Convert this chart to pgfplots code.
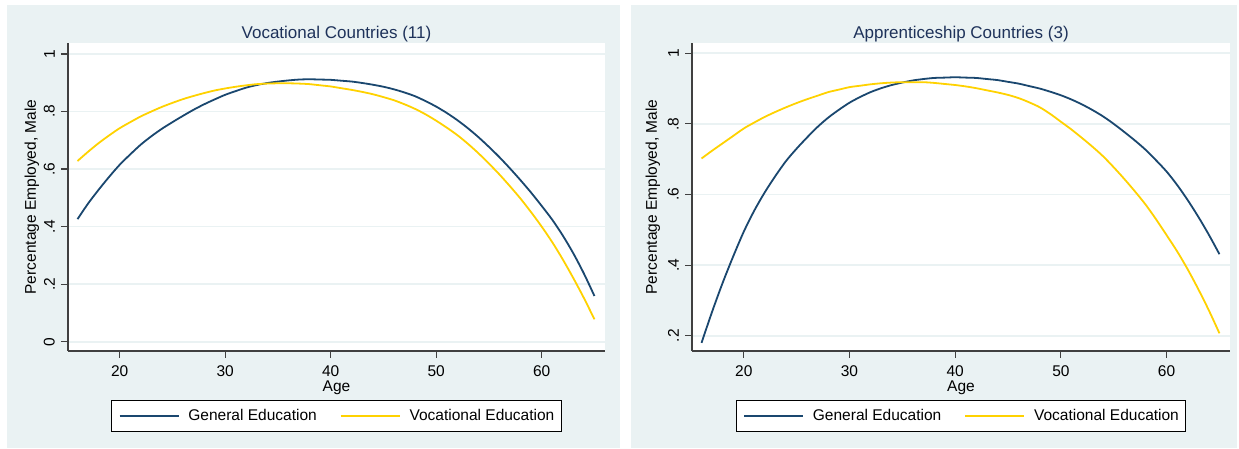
\documentclass[border=0pt]{standalone}
\usepackage{fontspec}
\setmainfont{Liberation Sans}
\usepackage{pgfplots}
\usepackage{pgfplotstable}
\pgfplotsset{compat=1.18}

\definecolor{stnavy}{RGB}{26,71,111}
\definecolor{stgold}{RGB}{255,210,0}
\definecolor{stbg}{RGB}{234,242,243}
\definecolor{sttitle}{RGB}{30,50,90}
\definecolor{staxis}{RGB}{64,64,64}

\newcommand{\lblfont}{\fontsize{15.5}{18}\selectfont}

% age, vocational countries (gen, voc), apprenticeship countries (gen, voc)
\pgfplotstableread{
age vgen  vvoc  agen  avoc
16  0.426 0.628 0.180 0.702
17  0.480 0.660 0.268 0.724
18  0.528 0.690 0.350 0.745
19  0.573 0.717 0.425 0.766
20  0.615 0.742 0.495 0.787
21  0.651 0.763 0.555 0.804
22  0.685 0.783 0.607 0.820
23  0.714 0.800 0.653 0.834
24  0.740 0.816 0.695 0.847
25  0.763 0.830 0.730 0.859
26  0.785 0.843 0.762 0.870
27  0.806 0.854 0.792 0.880
28  0.825 0.864 0.818 0.890
29  0.842 0.873 0.840 0.897
30  0.858 0.880 0.860 0.904
31  0.871 0.886 0.876 0.908
32  0.883 0.891 0.890 0.912
33  0.892 0.895 0.901 0.915
34  0.899 0.897 0.910 0.917
35  0.904 0.898 0.917 0.918
36  0.908 0.898 0.923 0.918
37  0.911 0.897 0.927 0.918
38  0.912 0.895 0.930 0.916
39  0.911 0.891 0.931 0.913
40  0.910 0.887 0.932 0.910
41  0.907 0.881 0.931 0.906
42  0.904 0.875 0.930 0.901
43  0.899 0.868 0.927 0.895
44  0.893 0.860 0.924 0.889
45  0.886 0.850 0.919 0.882
46  0.877 0.839 0.914 0.873
47  0.866 0.825 0.907 0.861
48  0.853 0.809 0.900 0.847
49  0.836 0.790 0.891 0.828
50  0.817 0.768 0.881 0.806
51  0.795 0.744 0.869 0.784
52  0.770 0.718 0.855 0.760
53  0.742 0.688 0.839 0.735
54  0.711 0.655 0.821 0.708
55  0.677 0.619 0.800 0.677
56  0.641 0.581 0.777 0.644
57  0.602 0.540 0.753 0.609
58  0.561 0.497 0.727 0.572
59  0.518 0.450 0.697 0.530
60  0.472 0.400 0.665 0.485
61  0.424 0.346 0.627 0.439
62  0.369 0.286 0.584 0.388
63  0.307 0.221 0.537 0.332
64  0.237 0.152 0.486 0.272
65  0.159 0.078 0.431 0.207
}\emp

\pgfplotsset{
  stata/.style={
    scale only axis, height=308pt,
    xmin=15.1, xmax=66,
    axis background/.style={fill=white},
    axis x line*=bottom, axis y line*=left,
    axis line style={-, draw=staxis, line width=1.5pt},
    tick style={draw=staxis, line width=1.2pt},
    tick align=outside, major tick length=7pt,
    xtick={20,30,40,50,60}, xticklabels={20,30,40,50,60},
    ymajorgrids, y grid style={draw=stbg, line width=1.5pt},
    ticklabel style={font=\lblfont},
    xticklabel style={inner sep=0pt, anchor=north, yshift=-7pt},
    yticklabel style={rotate=90, anchor=south, inner xsep=0pt, inner ysep=6pt},
    xlabel={Age}, ylabel={Percentage Employed, Male},
    label style={font=\lblfont},
    xlabel style={at={(axis description cs:0.5,-0.130)}, anchor=base},
    title style={at={(axis description cs:0.5,1)}, anchor=base, yshift=-2pt,
      font=\fontsize{17}{20}\selectfont, text=sttitle},
    legend columns=2, legend cell align=left,
    legend image code/.code={\draw[#1, line width=1.8pt] (0pt,0pt) -- (59pt,0pt);},
    legend style={at={(axis description cs:0.5,-0.159)}, anchor=north,
      draw=black, line width=0.8pt, fill=white, font=\lblfont,
      inner xsep=7pt, inner ysep=9pt, nodes={inner sep=0pt},
      /tikz/every odd column/.append style={column sep=9pt},
      /tikz/every even column/.append style={column sep=23pt}},
  },
  gen/.style={stnavy, line width=1.8pt, smooth},
  voc/.style={stgold, line width=1.8pt, smooth},
}

\begin{document}
\begin{tikzpicture}
\path[use as bounding box] (0pt,0pt) rectangle (1239pt,449pt);
\fill[stbg] (7pt,1pt) rectangle (620pt,444pt);
\fill[stbg] (631pt,1pt) rectangle (1237pt,444pt);

\begin{axis}[stata, at={(68pt,98pt)}, anchor=south west, width=537pt,
  ymin=-0.032, ymax=1.038,
  ytick={0,0.2,0.4,0.6,0.8,1}, yticklabels={0,.2,.4,.6,.8,1},
  ylabel style={at={(axis description cs:-0.0596,0.5)}, anchor=base},
  title={Vocational Countries (11)}]
\addplot[gen] table[x=age, y=vgen] {\emp};
\addlegendentry{General Education}
\addplot[voc] table[x=age, y=vvoc] {\emp};
\addlegendentry{Vocational Education}
\end{axis}

\begin{axis}[stata, at={(692pt,98pt)}, anchor=south west, width=538pt,
  ymin=0.157, ymax=1.029,
  ytick={0.2,0.4,0.6,0.8,1}, yticklabels={.2,.4,.6,.8,1},
  ylabel style={at={(axis description cs:-0.0651,0.5)}, anchor=base},
  title={Apprenticeship Countries (3)}]
\addplot[gen] table[x=age, y=agen] {\emp};
\addlegendentry{General Education}
\addplot[voc] table[x=age, y=avoc] {\emp};
\addlegendentry{Vocational Education}
\end{axis}
\end{tikzpicture}
\end{document}
